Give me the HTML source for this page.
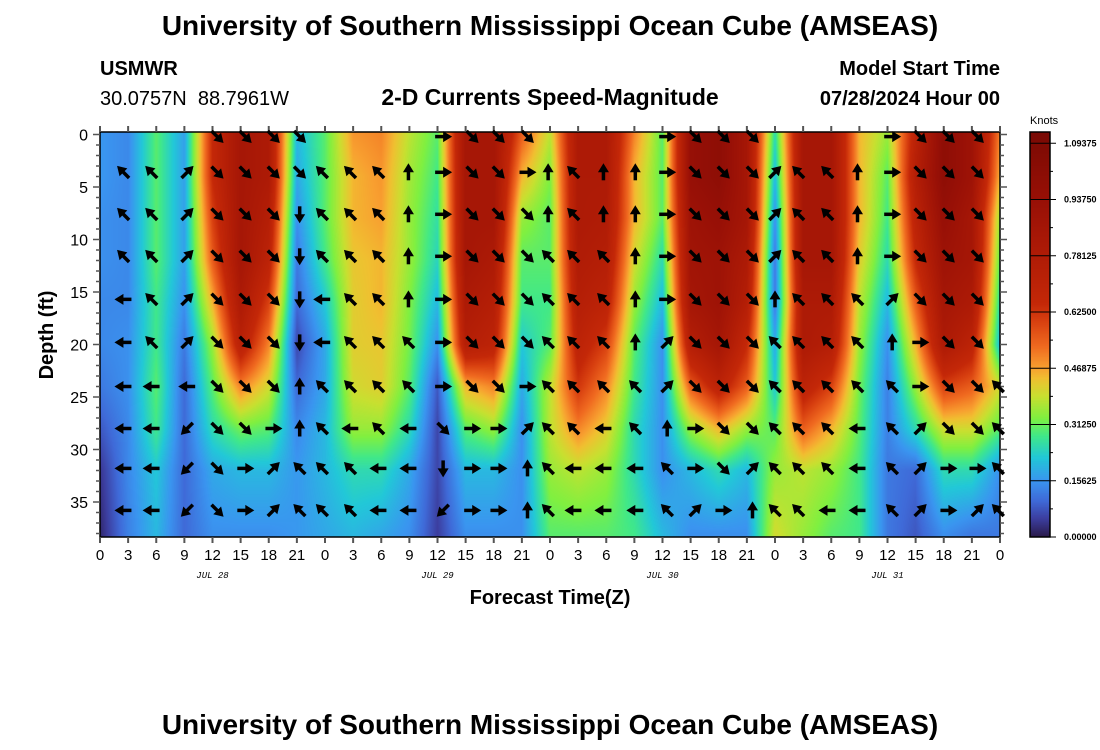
<!DOCTYPE html>
<html><head><meta charset="utf-8"><style>
html,body{margin:0;padding:0;background:#fff;width:1100px;height:750px;overflow:hidden}
#wrap{position:relative;width:1100px;height:750px}
canvas{position:absolute}
svg{position:absolute;left:0;top:0}
text{font-family:"Liberation Sans",sans-serif}
</style></head><body>
<div id="wrap">
<canvas id="heat" width="900" height="405" style="left:100px;top:132px"></canvas>
<canvas id="cbar" width="20" height="405" style="left:1030px;top:132px"></canvas>
<svg id="svg" width="1100" height="750">
<text x="550" y="35" text-anchor="middle" font-size="28" font-weight="bold">University of Southern Mississippi Ocean Cube (AMSEAS)</text>
<text x="550" y="734" text-anchor="middle" font-size="28" font-weight="bold">University of Southern Mississippi Ocean Cube (AMSEAS)</text>
<text x="100" y="75" font-size="20" font-weight="bold">USMWR</text>
<text x="100" y="105" font-size="20" xml:space="preserve">30.0757N  88.7961W</text>
<text x="550" y="105" text-anchor="middle" font-size="23" font-weight="bold">2-D Currents Speed-Magnitude</text>
<text x="1000" y="75" text-anchor="end" font-size="20" font-weight="bold">Model Start Time</text>
<text x="1000" y="105" text-anchor="end" font-size="20" font-weight="bold">07/28/2024 Hour 00</text>
<text transform="translate(53,335) rotate(-90)" text-anchor="middle" font-size="20" font-weight="bold">Depth (ft)</text>
<text x="550" y="604" text-anchor="middle" font-size="20" font-weight="bold">Forecast Time(Z)</text>
<text x="1030" y="124" font-size="11">Knots</text>
<g id="axes"></g>
<g id="arrows"></g>
</svg>
</div>
<script>
const hours = [0,3,6,9,12,15,18,21,24,27,30,33,36,39,42,45,48,51,54,57,60,63,66,69,72,75,78,81,84,87,90,93,96];
const depths = [0,4,8,12,16,20,24,28,32,38];
const speedByHour = [
[0.16,0.16,0.15,0.15,0.14,0.14,0.12,0.08,0.04,0.02],
[0.14,0.14,0.14,0.14,0.14,0.15,0.15,0.14,0.14,0.13],
[0.3,0.3,0.3,0.3,0.28,0.28,0.3,0.28,0.22,0.2],
[0.17,0.17,0.17,0.17,0.15,0.12,0.1,0.1,0.1,0.1],
[0.65,0.65,0.6,0.55,0.45,0.35,0.3,0.25,0.18,0.15],
[0.85,0.85,0.85,0.85,0.8,0.72,0.5,0.32,0.2,0.15],
[0.8,0.8,0.75,0.7,0.6,0.5,0.4,0.3,0.2,0.15],
[0.2,0.18,0.15,0.12,0.1,0.06,0.1,0.14,0.16,0.16],
[0.3,0.3,0.3,0.28,0.22,0.18,0.18,0.2,0.2,0.18],
[0.48,0.45,0.45,0.43,0.42,0.42,0.4,0.35,0.25,0.2],
[0.5,0.48,0.47,0.45,0.45,0.43,0.42,0.35,0.25,0.18],
[0.38,0.36,0.35,0.35,0.33,0.32,0.3,0.25,0.18,0.15],
[0.3,0.28,0.26,0.24,0.2,0.15,0.08,0.06,0.06,0.05],
[0.85,0.85,0.85,0.85,0.8,0.75,0.45,0.3,0.2,0.15],
[0.85,0.85,0.85,0.8,0.75,0.7,0.5,0.35,0.2,0.15],
[0.55,0.45,0.35,0.3,0.28,0.22,0.18,0.15,0.15,0.15],
[0.38,0.33,0.3,0.3,0.28,0.3,0.38,0.38,0.35,0.3],
[0.8,0.8,0.8,0.78,0.75,0.7,0.62,0.5,0.38,0.3],
[0.8,0.8,0.78,0.75,0.7,0.6,0.5,0.42,0.35,0.3],
[0.5,0.45,0.45,0.4,0.35,0.3,0.28,0.25,0.25,0.28],
[0.3,0.3,0.3,0.25,0.2,0.15,0.15,0.15,0.15,0.2],
[0.95,0.95,0.9,0.88,0.85,0.75,0.55,0.35,0.2,0.15],
[1.0,1.0,0.95,0.9,0.9,0.85,0.7,0.45,0.25,0.15],
[0.85,0.85,0.85,0.8,0.75,0.65,0.55,0.35,0.2,0.15],
[0.25,0.2,0.15,0.12,0.12,0.18,0.22,0.3,0.35,0.4],
[0.85,0.85,0.85,0.85,0.8,0.8,0.7,0.55,0.38,0.35],
[0.85,0.85,0.85,0.85,0.8,0.75,0.6,0.45,0.35,0.3],
[0.45,0.45,0.45,0.42,0.38,0.35,0.32,0.3,0.28,0.28],
[0.35,0.3,0.28,0.25,0.2,0.15,0.13,0.13,0.12,0.12],
[0.7,0.75,0.7,0.65,0.55,0.45,0.35,0.25,0.1,0.08],
[1.0,1.0,0.95,0.9,0.85,0.8,0.6,0.4,0.25,0.15],
[0.9,0.9,0.85,0.85,0.8,0.7,0.55,0.4,0.25,0.12],
[0.5,0.45,0.35,0.3,0.25,0.2,0.4,0.3,0.15,0.12]
];
const arrowHours = [2.5,5.5,9.3,12.5,15.5,18.5,21.3,23.7,26.7,29.7,32.9,36.6,39.7,42.5,45.6,47.8,50.5,53.7,57.1,60.5,63.5,66.5,69.6,72,74.5,77.6,80.8,84.5,87.5,90.5,93.6,95.8];
const arrowDepths = [0.2,3.6,7.6,11.6,15.7,19.8,24,28,31.8,35.8];
// direction codes per column: 0=E,1=NE,2=N,3=NW,4=W,5=SW,6=S,7=SE, '.'=none
const arrowDirs = [".333444444",".333334444",".111114555","7777777777","7777777700","7777777011","7766662233",".333443333",".333333433",".333333344",".222233444","0000000765","7777777000","7777777000","7077770122",".223333333",".333333344",".223333444",".222223344","0000011233","7777777001","7777777770","7777777712",".111233333",".333333333",".333333334",".222333444","0000123333","7777700111","7777777700","7777777701","......3333"];
const xTickHours = [0,3,6,9,12,15,18,21,24,27,30,33,36,39,42,45,48,51,54,57,60,63,66,69,72,75,78,81,84,87,90,93,96];
const xTickLabels = ["0","3","6","9","12","15","18","21","0","3","6","9","12","15","18","21","0","3","6","9","12","15","18","21","0","3","6","9","12","15","18","21","0"];
const dayHours = [12,36,60,84];
const dayLabels = ["JUL 28","JUL 29","JUL 30","JUL 31"];
const yTicks = [0,5,10,15,20,25,30,35];
const cbTicks = [0,0.15625,0.3125,0.46875,0.625,0.78125,0.9375,1.09375];
const cbMax = 1.125;

const X0=100,X1=1000,Y0=132,Y1=537;
const xS = h => X0 + h*(X1-X0)/96;
const yS = d => 134.5 + d*10.5;
const cS = v => Y1 - v/cbMax*(Y1-Y0);
const cmap=[[0,[42,26,74]],[0.05,[60,61,158]],[0.1,[63,106,216]],[0.156,[58,149,240]],[0.22,[34,200,216]],[0.28,[64,232,138]],[0.33,[128,240,64]],[0.39,[200,224,48]],[0.44,[240,192,48]],[0.47,[248,160,48]],[0.53,[240,106,32]],[0.6,[216,64,16]],[0.65,[196,40,8]],[0.78,[176,28,6]],[0.94,[152,16,6]],[1.125,[122,10,4]]];
function colorOf(v){v=Math.max(0,Math.min(cbMax,v));let i=0;while(i<cmap.length-2&&v>cmap[i+1][0])i++;
 const a=cmap[i],b=cmap[i+1];const f=(v-a[0])/(b[0]-a[0]);return [0,1,2].map(k=>a[1][k]+(b[1][k]-a[1][k])*f);}
function findIdx(arr,v){let i=0;while(i<arr.length-2&&v>arr[i+1])i++;let f=(v-arr[i])/(arr[i+1]-arr[i]);return [i,Math.max(0,Math.min(1,f))];}
function speedAt(h,d){const [i,fx]=findIdx(hours,h);const [j,fy]=findIdx(depths,d);
 const a=speedByHour[i][j],b=speedByHour[i+1][j],c=speedByHour[i][j+1],e=speedByHour[i+1][j+1];
 return (a*(1-fx)+b*fx)*(1-fy)+(c*(1-fx)+e*fx)*fy;}
(function(){const cv=document.getElementById('heat');const ctx=cv.getContext('2d');const im=ctx.createImageData(900,405);
 for(let py=0;py<405;py++){const d=(Y0+py+0.5-134.5)/10.5;
  for(let px=0;px<900;px++){const h=(px+0.5)*96/900;const c=colorOf(speedAt(h,d));const k=(py*900+px)*4;
   im.data[k]=c[0];im.data[k+1]=c[1];im.data[k+2]=c[2];im.data[k+3]=255;}}
 ctx.putImageData(im,0,0);
 const cb=document.getElementById('cbar').getContext('2d');
 for(let py=0;py<405;py++){const c=colorOf(cbMax*(1-(py+0.5)/405));cb.fillStyle=`rgb(${c[0]|0},${c[1]|0},${c[2]|0})`;cb.fillRect(0,py,20,1);}
})();
const NS='http://www.w3.org/2000/svg';
function mk(tag,attrs,parent){const e=document.createElementNS(NS,tag);for(const k in attrs)e.setAttribute(k,attrs[k]);parent.appendChild(e);return e;}
const axes=document.getElementById('axes');
let fr=mk('rect',{x:X0,y:Y0,width:X1-X0,height:Y1-Y0,fill:'none',stroke:'#000','stroke-width':1.5},axes);


let cfr=mk('rect',{x:1030,y:Y0,width:20,height:Y1-Y0,fill:'none',stroke:'#000','stroke-width':1.5},axes);


xTickHours.forEach((h,i)=>{const x=xS(h);
 const t=mk('line',{x1:x,y1:Y1,x2:x,y2:Y1+6,stroke:'#555','stroke-width':2},axes);
 
 
 mk('line',{x1:x,y1:Y0,x2:x,y2:Y0-6,stroke:'#555','stroke-width':2},axes);
 const l=mk('text',{x:x,y:Y1+23,'text-anchor':'middle','font-size':15},axes);l.textContent=xTickLabels[i];
 
 
});
dayHours.forEach((h,i)=>{const t=mk('text',{x:xS(h),y:578,'text-anchor':'middle','font-size':9,'font-style':'italic',style:'font-family:"Liberation Mono",monospace'},axes);t.textContent=dayLabels[i];
 
 });
for(let d=0;d<=38;d++){const y=yS(d);const len=(d%5===0)?7:4;
 mk('line',{x1:X0-len,y1:y,x2:X0,y2:y,stroke:'#555','stroke-width':1.5},axes);
 mk('line',{x1:X1,y1:y,x2:X1+len,y2:y,stroke:'#555','stroke-width':1.5},axes);}
yTicks.forEach(d=>{const t=mk('text',{x:X0-12,y:yS(d)+6,'text-anchor':'end','font-size':16},axes);t.textContent=d;
 
 });
cbTicks.forEach(v=>{const y=cS(v);mk('line',{x1:1030,y1:y,x2:1056,y2:y,stroke:'#000','stroke-width':1},axes);
 const t=mk('text',{x:1064,y:y+3,'font-size':9,'font-weight':'bold'},axes);t.textContent=v.toFixed(5);
 
 });
for(let v=0.078125;v<cbMax;v+=0.15625){mk('line',{x1:1050,y1:cS(v),x2:1053,y2:cS(v),stroke:'#000','stroke-width':1},axes);}
const ag=document.getElementById('arrows');
arrowHours.forEach((h,i)=>{arrowDepths.forEach((d,j)=>{const c=arrowDirs[i][j];if(c==='.')return;
 const ang=-45*parseInt(c);const g=mk('g',{transform:`translate(${xS(h)},${yS(d)}) rotate(${ang})`},ag);
 
 
 mk('line',{x1:-8,y1:0,x2:2,y2:0,stroke:'#000','stroke-width':3.5},g);
 mk('polygon',{points:'9,0 0,-5.5 0,5.5',fill:'#000'},g);
});});
</script>
</body></html>
